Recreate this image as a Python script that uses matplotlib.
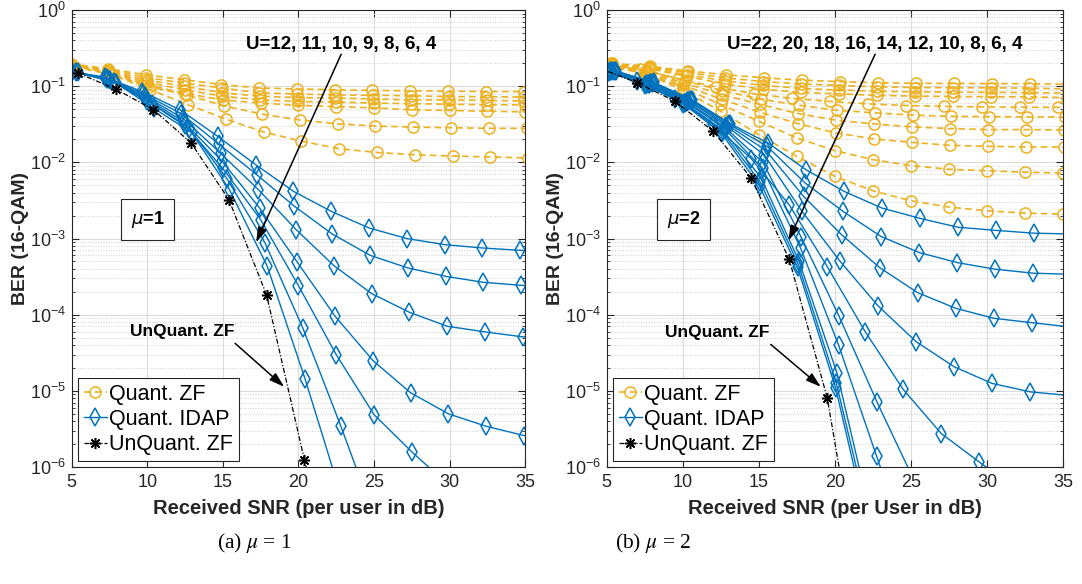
import numpy as np
import matplotlib
matplotlib.use('Agg')
import matplotlib.pyplot as plt
from matplotlib.ticker import LogLocator, NullFormatter, FixedLocator

plt.rcParams['font.family'] = ['Liberation Sans', 'DejaVu Sans']

# SNR grid (dB), last point sits just past the axis so lines reach the edge
snr_grid = [5, 7.5, 10, 12.5, 15, 17.5, 20, 22.5, 25, 27.5, 30, 32.5, 35, 37.5]

# ---------------- mu = 1 ----------------
users_mu1 = [12, 11, 10, 9, 8, 6, 4]
zf_shift_mu1 = [-0.1, -0.08, -0.05, -0.03, 0.0, 0.1, 0.2]
zf_ber_mu1 = [
    [0.197, 0.17, 0.141, 0.122, 0.105, 0.095, 0.092, 0.090, 0.088, 0.087, 0.086, 0.085, 0.085, 0.085],
    [0.195, 0.165, 0.13, 0.11, 0.095, 0.082, 0.079, 0.077, 0.076, 0.075, 0.073, 0.073, 0.072, 0.072],
    [0.193, 0.16, 0.12, 0.10, 0.082, 0.074, 0.071, 0.070, 0.068, 0.066, 0.066, 0.065, 0.064, 0.064],
    [0.19, 0.155, 0.112, 0.09, 0.074, 0.066, 0.063, 0.062, 0.060, 0.059, 0.058, 0.057, 0.057, 0.057],
    [0.188, 0.15, 0.105, 0.08, 0.066, 0.060, 0.056, 0.054, 0.052, 0.049, 0.048, 0.047, 0.046, 0.046],
    [0.185, 0.145, 0.098, 0.077, 0.055, 0.043, 0.036, 0.032, 0.030, 0.029, 0.0285, 0.028, 0.028, 0.028],
    [0.18, 0.14, 0.09, 0.057, 0.037, 0.025, 0.019, 0.0151, 0.0135, 0.0126, 0.0121, 0.0118, 0.0114, 0.0113],
]
# IDAP curves, log10(BER)
idap_shift_mu1 = [-0.33, -0.26, -0.15, -0.07, 0.0, 0.29, 0.44]
idap_exp_mu1 = [
    [-0.80, -0.88, -1.07, -1.31, -1.66, -2.03, -2.38, -2.643, -2.861, -3.0, -3.08, -3.124, -3.155, -3.17],
    [-0.80, -0.89, -1.10, -1.36, -1.76, -2.161, -2.577, -2.94, -3.22, -3.386, -3.496, -3.575, -3.614, -3.63],
    [-0.80, -0.90, -1.13, -1.42, -1.88, -2.358, -2.883, -3.356, -3.723, -3.969, -4.152, -4.226, -4.291, -4.31],
    [-0.81, -0.91, -1.16, -1.47, -1.98, -2.599, -3.312, -4.021, -4.602, -5.026, -5.302, -5.465, -5.587, -5.62],
    [-0.81, -0.92, -1.19, -1.51, -2.08, -2.752, -3.618, -4.524, -5.311, -5.80, -6.25],
    [-0.82, -0.94, -1.23, -1.56, -2.22, -3.058, -4.174, -5.455, -6.8],
    [-0.82, -0.96, -1.29, -1.61, -2.36, -3.365, -4.843, -6.45],
]
unq_shift_mu1 = 0.4
unq_exp_mu1 = [-0.827, -1.037, -1.308, -1.745, -2.49, -3.745, -5.91, -8.0]

# ---------------- mu = 2 ----------------
users_mu2 = [22, 20, 18, 16, 14, 12, 10, 8, 6, 4]
zf_shift_mu2 = [0.35, 0.3, 0.3, 0.25, -0.3, 0.15, 0.1, 0.05, 0.0, 0.0]
zf_exp_mu2 = [
    [-0.70, -0.74, -0.80, -0.85, -0.89, -0.92, -0.94, -0.955, -0.962, -0.964, -0.965, -0.968, -0.975, -0.978],
    [-0.70, -0.75, -0.82, -0.89, -0.94, -0.97, -0.99, -1.008, -1.018, -1.02, -1.021, -1.025, -1.035, -1.038],
    [-0.71, -0.76, -0.85, -0.93, -0.99, -1.03, -1.05, -1.066, -1.075, -1.079, -1.08, -1.085, -1.09, -1.093],
    [-0.71, -0.77, -0.87, -0.97, -1.04, -1.08, -1.10, -1.12, -1.13, -1.135, -1.138, -1.14, -1.15, -1.153],
    [-0.71, -0.78, -0.90, -1.01, -1.10, -1.16, -1.20, -1.232, -1.254, -1.265, -1.272, -1.276, -1.277, -1.278],
    [-0.72, -0.79, -0.93, -1.06, -1.17, -1.25, -1.316, -1.35, -1.38, -1.395, -1.40, -1.403, -1.405, -1.407],
    [-0.72, -0.80, -0.96, -1.11, -1.24, -1.36, -1.447, -1.495, -1.534, -1.557, -1.57, -1.57, -1.575, -1.577],
    [-0.73, -0.81, -0.99, -1.17, -1.34, -1.49, -1.613, -1.692, -1.737, -1.776, -1.789, -1.797, -1.80, -1.805],
    [-0.73, -0.82, -1.02, -1.24, -1.46, -1.68, -1.846, -1.964, -2.043, -2.09, -2.11, -2.13, -2.14, -2.145],
    [-0.74, -0.83, -1.05, -1.33, -1.636, -1.921, -2.184, -2.372, -2.504, -2.587, -2.636, -2.666, -2.68, -2.685],
]
idap_shift_mu2 = [0.6, 0.55, 0.45, 0.35, -0.5, 0.27, 0.25, 0.15, 0.1, 0.05]
idap_exp_mu2 = [
    [-0.80, -0.95, -1.175, -1.49, -1.745, -2.096, -2.38, -2.60, -2.735, -2.852, -2.893, -2.93, -2.94],
    [-0.80, -0.955, -1.18, -1.50, -1.79, -2.271, -2.645, -2.974, -3.184, -3.316, -3.403, -3.455, -3.47],
    [-0.80, -0.96, -1.185, -1.51, -1.84, -2.447, -2.951, -3.382, -3.711, -3.916, -4.047, -4.105, -4.16],
    [-0.80, -0.96, -1.19, -1.52, -1.90, -2.645, -3.30, -3.886, -4.355, -4.684, -4.903, -5.013, -5.06],
    [-0.78, -0.93, -1.17, -1.50, -1.95, -2.557, -3.368, -4.224, -4.982, -5.561, -5.934, -6.3],
    [-0.80, -0.965, -1.20, -1.54, -2.00, -2.974, -4.017, -5.145, -6.2],
    [-0.80, -0.97, -1.21, -1.56, -2.08, -3.126, -4.40, -5.86, -7.3],
    [-0.81, -0.97, -1.22, -1.58, -2.20, -3.30, -4.77, -6.9],
    [-0.81, -0.975, -1.225, -1.60, -2.26, -3.34, -4.90, -7.0],
    [-0.81, -0.98, -1.23, -1.62, -2.31, -3.38, -4.96, -7.1],
]
unq_shift_mu2 = -0.5
unq_exp_mu2 = [-0.76, -0.955, -1.197, -1.592, -2.205, -3.271, -5.092, -8.0]

ORANGE = '#EDB120'
BLUE = '#0072BD'
AXCOL = '#262626'
ASTERISK = (8, 2, 0)   # matlab-like '*'


def xs(n, shift):
    return np.array(snr_grid[:n]) + shift


def draw_panel(ax, zf_x, zf_y, id_x, id_y, un_x, un_y, xlabel):
    for i, (x, y) in enumerate(zip(zf_x, zf_y)):
        ax.plot(x, y, linestyle='--', marker='o', color=ORANGE, mfc='none',
                ms=8, mew=1.1, lw=1.2, dashes=(4, 2.5),
                label='Quant. ZF' if i == 0 else None)
    for i, (x, y) in enumerate(zip(id_x, id_y)):
        ax.plot(x, y, linestyle='-', marker='d', color=BLUE, mfc='none',
                ms=9, mew=1.1, lw=1.0,
                label='Quant. IDAP' if i == 0 else None)
    ax.plot(un_x, un_y, linestyle='-.', marker=ASTERISK, color='k', ms=8, mew=1.1,
            lw=0.9, dashes=(4, 1.5, 1, 1.5), label='UnQuant. ZF')

    ax.set_yscale('log')
    ax.set_xlim(5, 35)
    ax.set_ylim(1e-6, 1)
    ax.xaxis.set_major_locator(FixedLocator([5, 10, 15, 20, 25, 30, 35]))
    ax.yaxis.set_major_locator(LogLocator(base=10, numticks=10))
    ax.yaxis.set_minor_locator(LogLocator(base=10, subs=np.arange(2, 10), numticks=12))
    ax.yaxis.set_minor_formatter(NullFormatter())
    ax.grid(True, which='major', color='#dcdcdc', lw=0.8)
    ax.grid(True, which='minor', axis='y', color='#cfcfcf', lw=0.7, ls=':')
    ax.set_axisbelow(True)
    ax.tick_params(which='both', direction='in', top=True, right=True,
                   colors=AXCOL, labelsize=13)
    ax.tick_params(which='major', length=5, pad=5)
    ax.tick_params(axis='y', which='major', pad=4)
    ax.tick_params(which='minor', length=2.5)
    for s in ax.spines.values():
        s.set_color(AXCOL)
        s.set_linewidth(0.8)
    ax.set_xlabel(xlabel, fontsize=14.5, fontweight='bold', color=AXCOL, labelpad=6)
    ax.set_ylabel('BER (16-QAM)', fontsize=14, fontweight='bold', color=AXCOL, labelpad=1)
    leg = ax.legend(loc='lower left', fontsize=15.5, handlelength=1.1, handletextpad=0.1,
                    borderpad=0.25, labelspacing=0.2, borderaxespad=0.3,
                    fancybox=False, framealpha=1)
    leg.get_frame().set_edgecolor(AXCOL)
    leg.get_frame().set_linewidth(0.8)


fig = plt.figure(figsize=(10.82, 5.84), dpi=100)
ax1 = fig.add_axes([0.0663, 0.2003, 0.4190, 0.7825])
ax2 = fig.add_axes([0.5607, 0.2003, 0.4217, 0.7825])

draw_panel(ax1,
           [xs(len(v), s) for v, s in zip(zf_ber_mu1, zf_shift_mu1)],
           [np.array(v) for v in zf_ber_mu1],
           [xs(len(v), s) for v, s in zip(idap_exp_mu1, idap_shift_mu1)],
           [10.0 ** np.array(v) for v in idap_exp_mu1],
           xs(len(unq_exp_mu1), unq_shift_mu1), 10.0 ** np.array(unq_exp_mu1),
           'Received SNR (per user in dB)')
draw_panel(ax2,
           [xs(len(v), s) for v, s in zip(zf_exp_mu2, zf_shift_mu2)],
           [10.0 ** np.array(v) for v in zf_exp_mu2],
           [xs(len(v), s) for v, s in zip(idap_exp_mu2, idap_shift_mu2)],
           [10.0 ** np.array(v) for v in idap_exp_mu2],
           xs(len(unq_exp_mu2), unq_shift_mu2), 10.0 ** np.array(unq_exp_mu2),
           'Received SNR (per User in dB)')

arrow = dict(arrowstyle='-|>,head_length=0.9,head_width=0.28', color='k', lw=1.1,
             shrinkA=0, shrinkB=0)
mu_box = dict(boxstyle='square,pad=0.55', fc='white', ec=AXCOL, lw=0.8)

# mu = 1 annotations
ax1.text(22.82, 10 ** -0.45, 'U=' + ', '.join(str(u) for u in users_mu1),
         ha='center', va='center', fontsize=13.5, fontweight='bold')
ax1.annotate('', xy=(17.2, 10 ** -3.05), xytext=(22.83, 10 ** -0.58), arrowprops=arrow)
ax1.text(12.3, 10 ** -4.224, 'UnQuant. ZF', ha='center', va='center',
         fontsize=12.5, fontweight='bold')
ax1.annotate('', xy=(19.06, 10 ** -4.947), xytext=(15.81, 10 ** -4.376), arrowprops=arrow)
ax1.text(10.02, 10 ** -2.754, r'$\mu$=1', ha='center', va='center', fontsize=13,
         fontweight='bold', bbox=mu_box)

# mu = 2 annotations
ax2.text(22.65, 10 ** -0.45, 'U=' + ', '.join(str(u) for u in users_mu2),
         ha='center', va='center', fontsize=13.5, fontweight='bold')
ax2.annotate('', xy=(16.95, 10 ** -3.026), xytext=(22.65, 10 ** -0.58), arrowprops=arrow)
ax2.text(12.26, 10 ** -4.237, 'UnQuant. ZF', ha='center', va='center',
         fontsize=12.5, fontweight='bold')
ax2.annotate('', xy=(19.08, 10 ** -4.947), xytext=(15.79, 10 ** -4.39), arrowprops=arrow)
ax2.text(10.05, 10 ** -2.754, r'$\mu$=2', ha='center', va='center', fontsize=13,
         fontweight='bold', bbox=mu_box)

# sub-captions
fig.text(0.235, 0.070, r'(a) $\mu$ = 1', ha='center', va='center', fontsize=15.5,
         family='Liberation Serif', math_fontfamily='stix')
fig.text(0.6035, 0.070, r'(b) $\mu$ = 2', ha='center', va='center', fontsize=15.5,
         family='Liberation Serif', math_fontfamily='stix')

fig.savefig('out.png', dpi=100)
